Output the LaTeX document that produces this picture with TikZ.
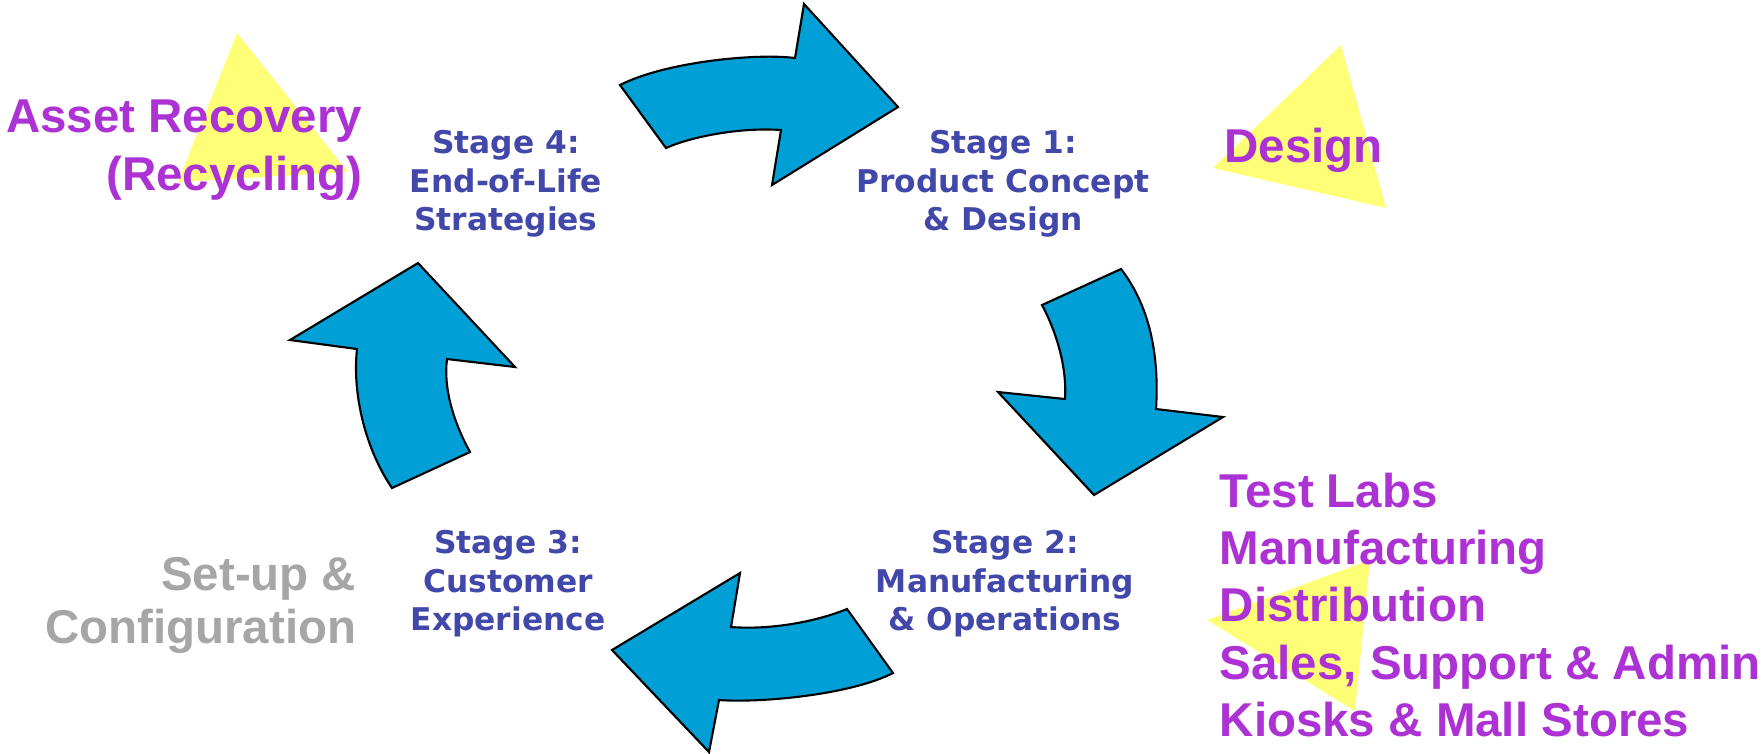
\documentclass[tikz,border=0pt]{standalone}
\usepackage{fontspec}
\usepackage{xcolor}
\usepackage{tikz}
\newfontfamily\stagefont{DejaVu Sans}
\newfontfamily\notefont{Liberation Sans}
\definecolor{arrowblue}{RGB}{0,159,214}
\definecolor{stageblue}{RGB}{66,72,170}
\definecolor{notepurple}{RGB}{172,50,212}
\definecolor{setupgray}{RGB}{166,166,166}
\definecolor{markyellow}{RGB}{255,255,119}

\begin{document}
\begin{tikzpicture}[x=0.01cm,y=-0.01cm,line join=miter,
    note/.style={inner sep=0pt, text=notepurple, font=\notefont\bfseries\fontsize{13.5pt}{#1}\selectfont}]
    \tikzstyle{cycle arrow}=[fill=arrowblue, draw=black, line width=0.6pt]
    \tikzstyle{marker}=[fill=markyellow, draw=none]
    \tikzstyle{stage}=[align=center, inner sep=0pt, text=stageblue, font=\stagefont\bfseries\fontsize{8.9pt}{10.95pt}\selectfont]
    \useasboundingbox (0,0) rectangle (1764,753);

    % yellow markers
    \fill[marker] (237,33) -- (178,182) -- (348,172) -- cycle;
    \fill[marker] (1341,45) -- (1213,168) -- (1386,208) -- cycle;
    \fill[marker] (1370,560) -- (1207,620) -- (1355,711) -- cycle;

    % the four arrows of the cycle
    \draw[cycle arrow] (620,85) -- (666,148) .. controls (690,137) and (740,127) .. (781,130)
        -- (772,185) -- (898,107) -- (804,4) -- (795,58)
        .. controls (755,53) and (665,62) .. (620,85) -- cycle;
    \draw[cycle arrow] (1042,305) -- (1121,269) .. controls (1145,300) and (1160,345) .. (1156,409)
        -- (1223,417) -- (1094,495) -- (998,392) -- (1065,399)
        .. controls (1067,370) and (1058,335) .. (1042,305) -- cycle;
    \draw[cycle arrow] (893,673) -- (847,609) .. controls (815,622) and (770,630) .. (731,627)
        -- (740,573) -- (612,650) -- (709,752) -- (719,700)
        .. controls (760,703) and (850,695) .. (893,673) -- cycle;
    \draw[cycle arrow] (392,488) -- (470,452) .. controls (455,425) and (443,390) .. (447,359)
        -- (515,367) -- (418,263) -- (290,340) -- (357,349)
        .. controls (352,395) and (366,450) .. (392,488) -- cycle;

    % stages
    \node[stage] (stage4) at (506,184) {Stage 4:\\End-of-Life\\Strategies};
    \node[stage] (stage1) at (1003,184) {Stage 1:\\Product Concept\\\& Design};
    \node[stage] (stage2) at (1005,584) {Stage 2:\\Manufacturing\\\& Operations};
    \node[stage] (stage3) at (508,584) {Stage 3:\\Customer\\Experience};

    % notes
    \node[note=16.5pt, align=right, anchor=east] (recovery) at (363,150) {Asset Recovery\\(Recycling)};
    \node[note=16.5pt, anchor=base west] (design) at (1224,162) {Design};
    \node[note=16.3pt, align=left, anchor=west] (channels) at (1219,605)
        {Test Labs\\Manufacturing\\Distribution\\Sales, Support \& Admin\\Kiosks \& Mall Stores};
    \node[note=15.1pt, align=right, anchor=east, text=setupgray] (setup) at (357,605) {Set-up \&\\Configuration};
\end{tikzpicture}
\end{document}
